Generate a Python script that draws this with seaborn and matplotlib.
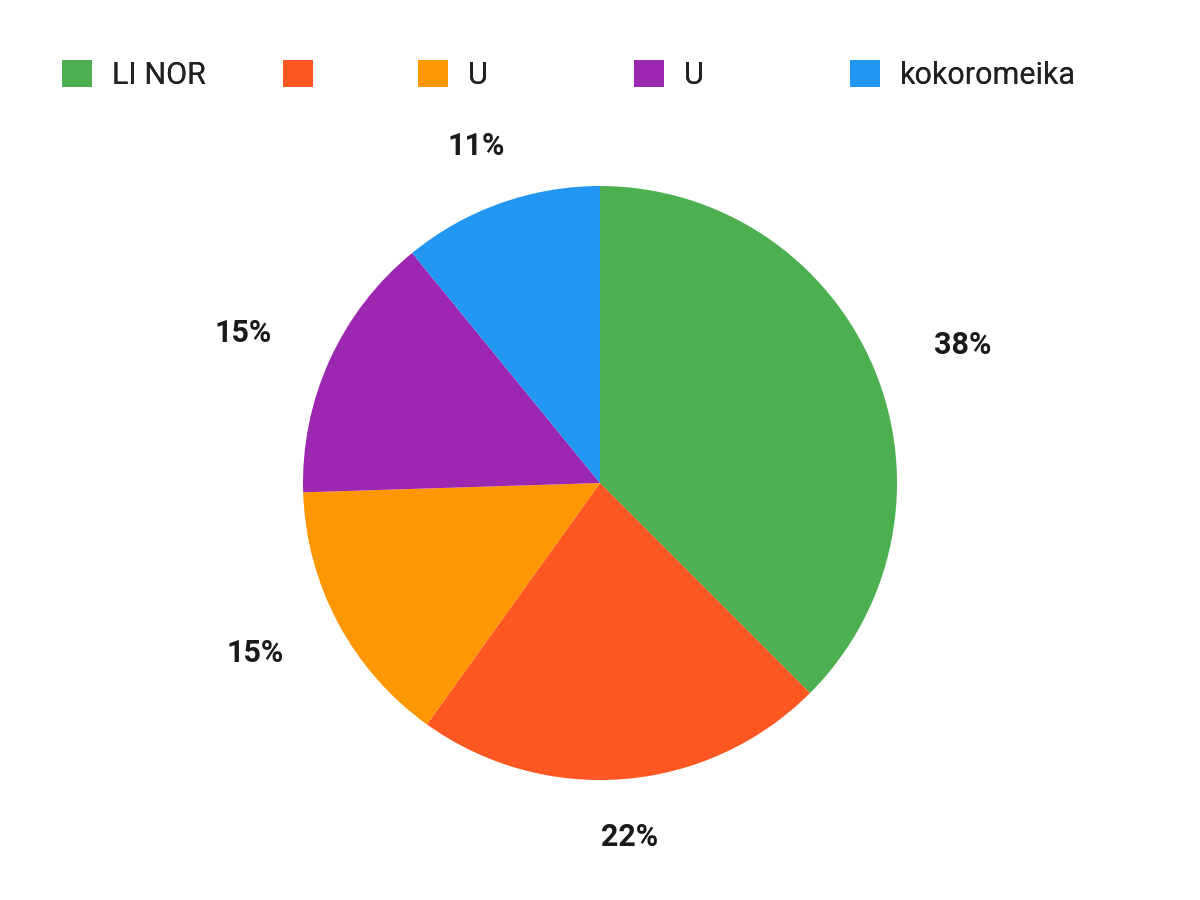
import matplotlib
matplotlib.use('Agg')
import matplotlib.pyplot as plt
import numpy as np
import seaborn as sns

# data
labels = ['LI NOR', '', 'U', 'U', 'kokoromeika']
shares = [37.5, 22.4, 14.6, 14.6, 10.9]
colors = ['#4CAF50', '#FF5722', '#FF9800', '#9C27B0', '#2196F3']

sns.set_theme(style='white')
plt.rcParams['font.family'] = ['Roboto', 'DejaVu Sans']

palette = sns.color_palette(colors)

fig = plt.figure(figsize=(12, 9), dpi=100)
ax = fig.add_axes([0.1535, 0.0013, 0.693, 0.924])

wedges, texts, autotexts = ax.pie(
    shares, colors=palette, startangle=90, counterclock=False,
    autopct='%1.0f%%', pctdistance=1.2, radius=1.0,
    wedgeprops={'linewidth': 0},
    textprops={'fontsize': 22, 'fontweight': 'bold', 'color': '#1a1a1a'},
)
# labels sit further out at the sides and a bit flatter than a circle
for w, t in zip(wedges, autotexts):
    ang = np.deg2rad((w.theta1 + w.theta2) / 2)
    c = abs(np.cos(ang))
    r = 1.192 + 0.14 * c
    t.set_position((r * np.cos(ang), r * np.sin(ang) * (1 - 0.085 * c)))

ax.set_xlim(-1.4, 1.4)
ax.set_ylim(-1.4, 1.4)
ax.set_aspect('equal')
ax.axis('off')

# one legend entry per slot, spaced like the reference
slots = [62, 283, 418, 634, 850]
for w, lab, x in zip(wedges, labels, slots):
    leg = fig.legend([w], [lab], loc='center left',
                     bbox_to_anchor=(x / 1200, 1 - 75 / 900), frameon=False,
                     fontsize=22, handlelength=0.98, handleheight=0.98,
                     handletextpad=0.65, borderpad=0, borderaxespad=0,
                     labelcolor='#212121')
    fig.add_artist(leg)

plt.savefig('out.png', dpi=100)
